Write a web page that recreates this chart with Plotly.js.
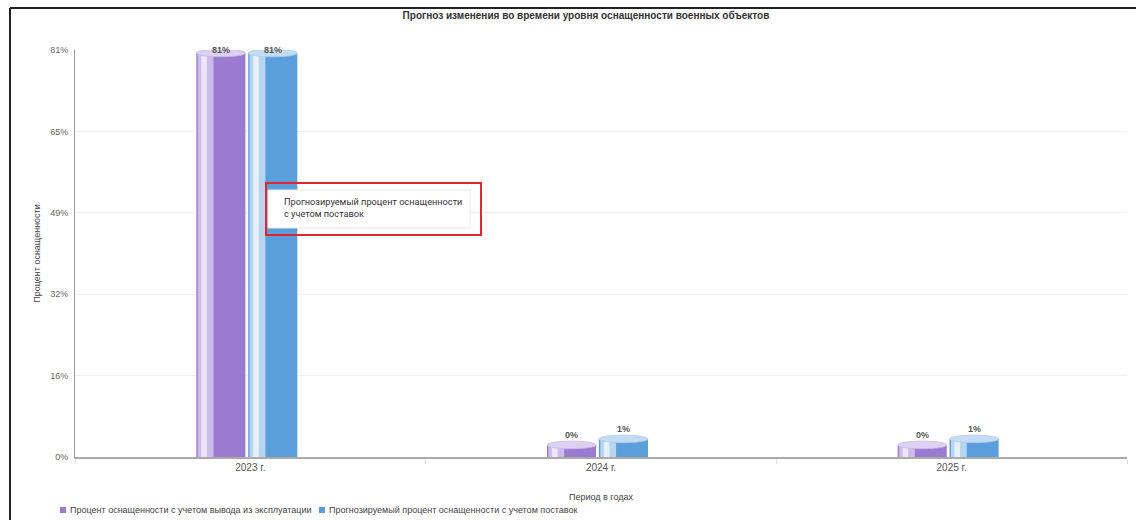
<!DOCTYPE html>
<html>
<head>
<meta charset="utf-8">
<script src="https://cdn.plot.ly/plotly-3.0.1.min.js"></script>
<style>html,body{margin:0;padding:0;background:#fff;}#chart{width:1136px;height:520px;}</style>
</head>
<body>
<div id="chart"></div>
<script>
// ---- data ----
const categories = ['2023 г.', '2024 г.', '2025 г.'];
const seriesNames = ['Процент оснащенности с учетом вывода из эксплуатации', 'Прогнозируемый процент оснащенности с учетом поставок'];
// drawn column heights (percent)
const decommissionValues = [80.4, 2.4, 2.4];
const supplyValues = [80.4, 3.6, 3.6];
// value labels shown above the columns
const decommissionLabels = ['81%', '0%', '0%'];
const supplyLabels = ['81%', '1%', '1%'];
const yTickVals = [0, 16.2, 32.4, 48.6, 64.8, 81];
const yTickText = ['0%', '16%', '32%', '49%', '65%', '81%'];
const tooltipText = 'Прогнозируемый процент оснащенности<br>с учетом поставок';

// ---- styling ----
const PL = 75, PR = 1127, PT = 50, PB = 457;
const px = v => (v - PL) / (PR - PL);
const py = v => (PB - v) / (PB - PT);
const W = 0.14;
const series = [
  {name: seriesNames[0], vals: decommissionValues, labels: decommissionLabels, off: -0.154,
   body: '#9a7bcf', light: '#cdbce9', white: '#ece4f7', cap: '#ddd0f2', capLine: '#c9b6ea', legX: 60},
  {name: seriesNames[1], vals: supplyValues, labels: supplyLabels, off: -0.006,
   body: '#5a9edb', light: '#b8d4ef', white: '#e6f0fa', cap: '#c3dcf3', capLine: '#a9cbee', legX: 319}
];

const font = 'Liberation Sans, Arial, sans-serif';
const traces = [];
const shapes = [];
const annotations = [];
series.forEach((s, si) => {
  traces.push({type: 'bar', x: categories, y: s.vals, name: s.name, offset: s.off, width: W,
    marker: {color: s.body, line: {width: 0}}, hoverinfo: 'skip'});
  traces.push({type: 'bar', x: categories, y: s.vals, offset: s.off + 0.004, width: 0.045,
    marker: {color: s.light, line: {width: 0}}, hoverinfo: 'skip'});
  traces.push({type: 'bar', x: categories, y: s.vals, offset: s.off + 0.014, width: 0.016,
    marker: {color: s.white, line: {width: 0}}, hoverinfo: 'skip'});
  s.vals.forEach((v, i) => {
    shapes.push({type: 'circle', xref: 'x', yref: 'y', x0: i + s.off, x1: i + s.off + W,
      y0: v - 0.75, y1: v + 0.75, fillcolor: s.cap, line: {color: s.capLine, width: 0.8}, layer: 'above'});
    annotations.push({xref: 'x', yref: 'y', x: i + s.off + W / 2, y: Math.min(v, 79), yanchor: 'bottom', yshift: 3,
      text: s.labels[i], showarrow: false, font: {family: font, size: 9, color: '#555', weight: 'bold'}});
  });
  // legend entry
  shapes.push({type: 'rect', xref: 'paper', yref: 'paper', x0: px(s.legX), x1: px(s.legX + 6),
    y0: py(513), y1: py(507), fillcolor: s.body, line: {width: 0}});
  annotations.push({xref: 'paper', yref: 'paper', x: px(s.legX + 8), y: py(510), xanchor: 'left', yanchor: 'middle',
    text: s.name, showarrow: false, font: {family: font, size: 9, color: '#444'}});
});

// tooltip box and red frame
shapes.push({type: 'rect', xref: 'paper', yref: 'paper', x0: px(268), x1: px(470),
  y0: py(228), y1: py(190), fillcolor: '#ffffff', line: {color: '#e6e6e6', width: 1}, layer: 'above'});
annotations.push({xref: 'paper', yref: 'paper', x: px(282), y: py(194), xanchor: 'left', yanchor: 'top',
  text: tooltipText, align: 'left', showarrow: false,
  font: {family: 'Roboto, Arial, sans-serif', size: 9.2, color: '#333'}});
shapes.push({type: 'rect', xref: 'paper', yref: 'paper', x0: px(266), x1: px(481),
  y0: py(235), y1: py(183), line: {color: '#e0262f', width: 2}, layer: 'above'});
// screenshot frame
shapes.push({type: 'line', xref: 'paper', yref: 'paper', x0: px(10), x1: px(10),
  y0: py(525), y1: py(8), line: {color: '#222', width: 2}});
shapes.push({type: 'line', xref: 'paper', yref: 'paper', x0: px(10), x1: px(1140),
  y0: py(8), y1: py(8), line: {color: '#222', width: 2}});

const layout = {
  width: 1136, height: 520,
  margin: {l: PL, r: 1136 - PR, t: PT, b: 520 - PB, autoexpand: false},
  paper_bgcolor: '#ffffff', plot_bgcolor: '#ffffff',
  barmode: 'overlay',
  showlegend: false,
  font: {family: font, size: 10, color: '#555'},
  title: {text: '<b>Прогноз изменения во времени уровня оснащенности военных объектов</b>',
    x: 586 / 1136, xanchor: 'center', y: 1 - 15 / 520, yanchor: 'middle', font: {family: font, size: 10, color: '#333'}},
  xaxis: {type: 'category', range: [-0.5, 2.5], showgrid: false, zeroline: false, automargin: false,
    showline: true, linecolor: '#aaaaaa', linewidth: 2,
    ticks: 'outside', tickson: 'boundaries', ticklen: 5, tickcolor: '#dddddd',
    tickfont: {family: font, size: 10, color: '#555'},
    title: {text: 'Период в годах', font: {family: font, size: 9, color: '#444'}, standoff: 22}},
  yaxis: {range: [0, 81], tickvals: yTickVals, ticktext: yTickText, showgrid: true, gridcolor: '#efefef', gridwidth: 1,
    zeroline: false, showline: true, linecolor: '#999', linewidth: 1, ticks: '', ticklabelstandoff: 4, automargin: false,
    tickfont: {family: font, size: 9, color: '#666'},
    title: {text: 'Процент оснащенности', font: {family: font, size: 9, color: '#444'}, standoff: 8}},
  shapes: shapes,
  annotations: annotations,
  hovermode: false
};

Plotly.newPlot('chart', traces, layout, {displayModeBar: false, staticPlot: true});
</script>
</body>
</html>
